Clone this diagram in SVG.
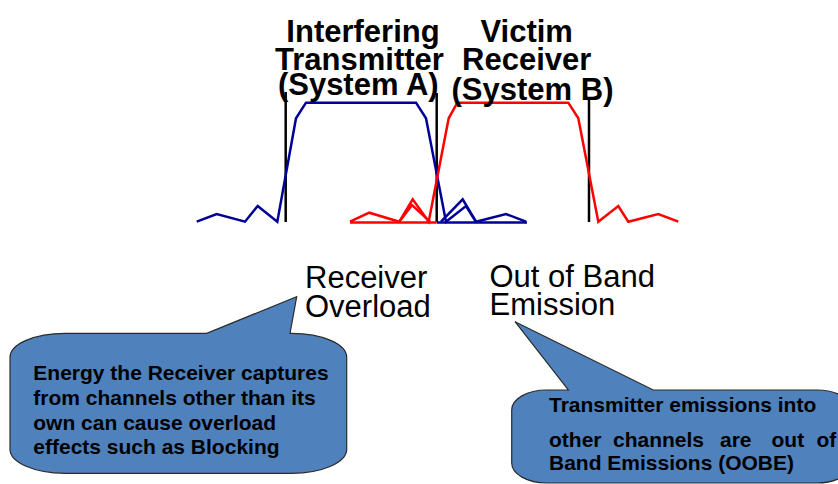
<svg xmlns="http://www.w3.org/2000/svg" width="838" height="484" viewBox="0 0 838 484">
<style>
.title{font-family:"Liberation Sans",Arial,sans-serif;font-weight:bold;font-size:31px;fill:#000;text-anchor:middle}
.lab{font-family:"Liberation Sans",Arial,sans-serif;font-size:31px;fill:#000}
.ct{font-family:"Liberation Sans",Arial,sans-serif;font-weight:bold;font-size:21px;fill:#000}
.blue{fill:none;stroke:#000099;stroke-width:2.5;stroke-linejoin:miter}
.red{fill:none;stroke:#FF0000;stroke-width:2.5;stroke-linejoin:miter}
.mark{stroke:#000;stroke-width:2.5}
.callout{fill:#4F81BD;stroke:#2B2B2B;stroke-width:1.2}
</style>
<rect width="838" height="484" fill="#fff"/>
<g id="spectrum">
  <g id="markers">
    <line class="mark" x1="285.7" y1="92" x2="285.7" y2="222"/>
    <line class="mark" x1="436.7" y1="93" x2="436.7" y2="222"/>
    <line class="mark" x1="589" y1="97" x2="589" y2="222"/>
  </g>
  <g id="systemA-curve">
    <polyline class="blue" points="196.7,221.7 216.7,214 245,221.7 257.7,206 277.3,221.7 296,118.3 306,102.7 416,102.7 426,118.3 446,221.7 466,206 476,221.7 506,214 526,221.7"/>
    <polyline class="blue" points="441,221.7 462.7,199.3 476,221.7"/>
    <line class="blue" x1="437" y1="222.5" x2="527" y2="222.5"/>
  </g>
  <g id="systemB-curve">
    <polyline class="red" points="350,221.7 369.3,212.7 399.3,221.7 412.7,199.3 428.7,221.7 448.7,118.3 457.3,102.7 568.3,102.7 578.3,118.3 598.3,221.7 618.3,206 628.3,221.7 658.3,214 678.3,221.7"/>
    <polyline class="red" points="399.3,221.7 412,205 430,221.7"/>
    <line class="red" x1="350" y1="222.5" x2="436.7" y2="222.5"/>
  </g>
</g>
<g id="title-A">
  <text class="title" x="363" y="41.5">Interfering</text>
  <text class="title" x="359.5" y="70">Transmitter</text>
  <text class="title" x="358.3" y="95">(System A)</text>
</g>
<g id="title-B">
  <text class="title" x="526.7" y="41.5">Victim</text>
  <text class="title" x="526.7" y="70">Receiver</text>
  <text class="title" x="532.5" y="100">(System B)</text>
</g>
<g id="label-overload">
  <text class="lab" x="305" y="288">Receiver</text>
  <text class="lab" x="305" y="317">Overload</text>
</g>
<g id="label-oobe">
  <text class="lab" x="489.5" y="286.5">Out of Band</text>
  <text class="lab" x="489.5" y="315">Emission</text>
</g>
<g id="callout-overload">
  <path class="callout" d="M65,333.3 L206.7,333.3 L296.7,296.7 L290,333.3 L291.7,333.3 A55 24 0 0 1 346.7,357.3 L346.7,449.3 A55 24 0 0 1 291.7,473.3 L65,473.3 A55 24 0 0 1 10,449.3 L10,357.3 A55 24 0 0 1 65,333.3 Z"/>
  <text class="ct" x="33.3" y="380">Energy the Receiver captures</text>
  <text class="ct" x="33.3" y="405">from channels other than its</text>
  <text class="ct" x="33.3" y="429.5">own can cause overload</text>
  <text class="ct" x="33.3" y="454">effects such as Blocking</text>
</g>
<g id="callout-oobe">
  <path class="callout" d="M546.7,390 L568.3,390 L515,321.7 L653.3,390 L817,390 A35 20 0 0 1 852,410 L852,463 A35 20 0 0 1 817,483 L546.7,483 A35 20 0 0 1 511.7,463 L511.7,410 A35 20 0 0 1 546.7,390 Z"/>
  <text class="ct" x="549" y="411.7">Transmitter emissions into</text>
  <text class="ct" y="446.7"><tspan x="549">other</tspan><tspan x="613">channels</tspan><tspan x="720">are</tspan><tspan x="771.5">out</tspan><tspan x="816.5">of</tspan></text>
  <text class="ct" x="549" y="470">Band Emissions (OOBE)</text>
</g>
</svg>
